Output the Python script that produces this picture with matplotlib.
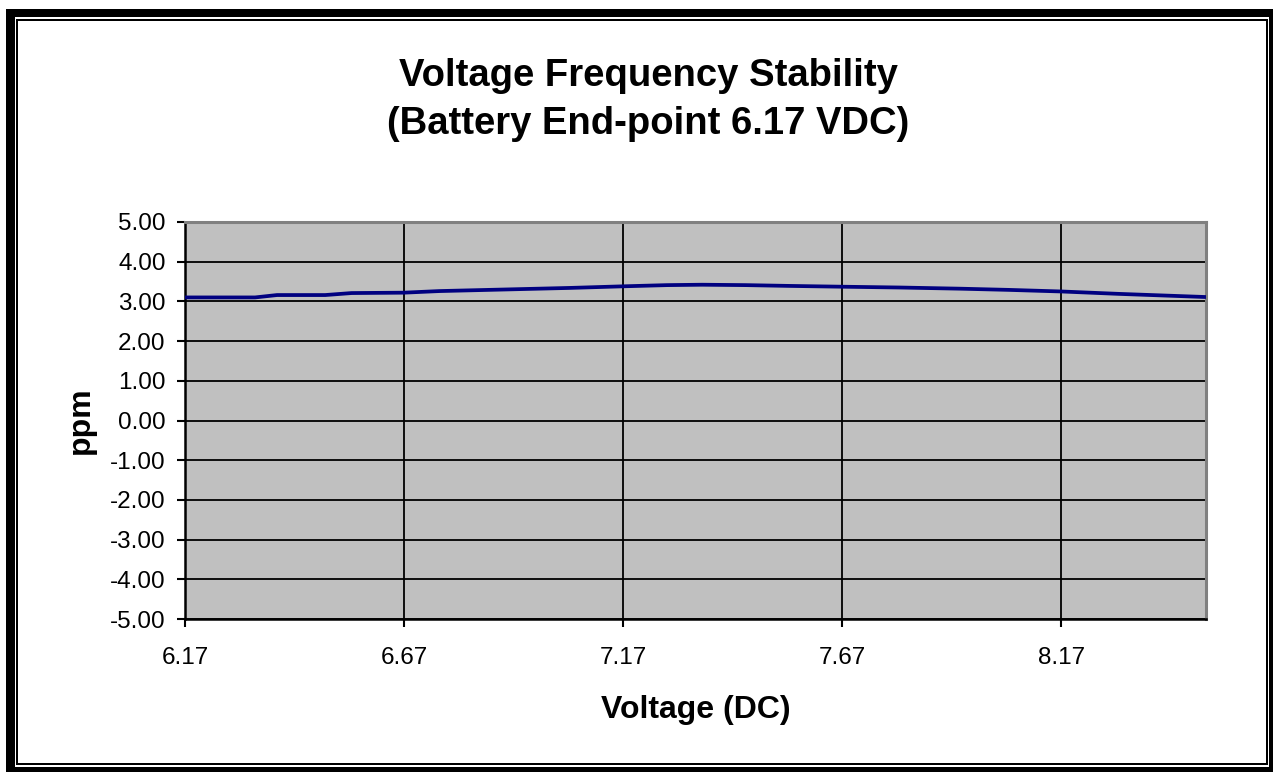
import matplotlib.pyplot as plt
from matplotlib.patches import Rectangle

plt.rcParams['font.family'] = ['Liberation Sans', 'DejaVu Sans']

# Voltage (V DC) vs frequency offset (ppm)
voltage = [6.17, 6.33, 6.38, 6.49, 6.55, 6.67, 6.75, 6.90, 7.05, 7.17,
           7.27, 7.35, 7.45, 7.55, 7.67, 7.80, 7.94, 8.05, 8.17, 8.30, 8.40, 8.50]
ppm = [3.10, 3.10, 3.16, 3.16, 3.21, 3.22, 3.26, 3.30, 3.34, 3.38,
       3.41, 3.42, 3.41, 3.39, 3.37, 3.35, 3.32, 3.29, 3.25, 3.19, 3.15, 3.11]

x_ticks = [6.17, 6.67, 7.17, 7.67, 8.17]
y_ticks = [-5, -4, -3, -2, -1, 0, 1, 2, 3, 4, 5]

W, H = 1273, 775
fig = plt.figure(figsize=(W / 100, H / 100), dpi=100)
ax = fig.add_axes([185 / W, 1 - 619 / H, (1206 - 185) / W, (619 - 222) / H])
ax.set_facecolor('#C0C0C0')

ax.plot(voltage, ppm, color='#000080', lw=2.7, solid_capstyle='butt', zorder=3)

ax.set_xlim(6.17, 8.50)
ax.set_ylim(-5, 5)
ax.set_xticks(x_ticks)
ax.set_xticklabels([f'{v:.2f}' for v in x_ticks])
ax.set_yticks(y_ticks)
ax.set_yticklabels([f'{v:.2f}' for v in y_ticks])
ax.tick_params(direction='out', length=6, width=1.5, labelsize=17.5, color='black')
ax.tick_params(axis='x', pad=14)
ax.tick_params(axis='y', pad=8)

ax.grid(True, color='black', lw=1.3)
ax.set_axisbelow(True)
for side in ['left', 'bottom']:
    ax.spines[side].set_color('black')
    ax.spines[side].set_linewidth(1.8)
for side in ['top', 'right']:
    ax.spines[side].set_color('#808080')
    ax.spines[side].set_linewidth(2.2)

ax.set_xlabel('Voltage (DC)', fontsize=23, fontweight='bold', labelpad=19)
ax.set_ylabel('ppm', fontsize=23, fontweight='bold', labelpad=10)

fig.text(648 / W, 1 - 100 / H, 'Voltage Frequency Stability\n(Battery End-point 6.17 VDC)',
         ha='center', va='center', fontsize=27.5, fontweight='bold', linespacing=1.42)


# double border round the chart area (pixel boxes converted to figure fractions)
def box(x0, y0, x1, y1):
    fig.add_artist(Rectangle((x0 / W, 1 - y1 / H), (x1 - x0) / W, (y1 - y0) / H,
                             transform=fig.transFigure, color='black', lw=0))


box(6, 9, 1273, 17)
box(6, 767, 1273, 772)
box(6, 9, 15, 772)
box(1269, 9, 1273, 772)
box(16, 19, 1268, 21)
box(16, 763, 1268, 765)
box(16, 19, 18, 765)
box(1266, 19, 1268, 765)

fig.savefig('out.png', dpi=100)
